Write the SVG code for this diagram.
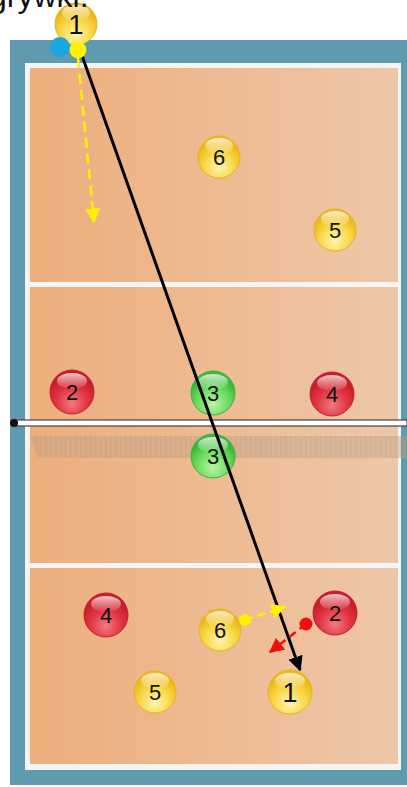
<svg xmlns="http://www.w3.org/2000/svg" width="407" height="787" viewBox="0 0 407 787">
<defs>
<linearGradient id="court" x1="0" y1="0" x2="1" y2="0">
<stop offset="0" stop-color="#EDAE7C"/><stop offset="1" stop-color="#EEC7A8"/>
</linearGradient>
<radialGradient id="gy" cx="0.5" cy="0.75" r="0.6">
<stop offset="0" stop-color="#FFF4B0"/><stop offset="0.6" stop-color="#F8D848"/><stop offset="1" stop-color="#EDB91A"/>
</radialGradient>
<radialGradient id="gr" cx="0.5" cy="0.75" r="0.6">
<stop offset="0" stop-color="#F27A80"/><stop offset="0.6" stop-color="#E03440"/><stop offset="1" stop-color="#C81E2C"/>
</radialGradient>
<radialGradient id="gg" cx="0.5" cy="0.75" r="0.6">
<stop offset="0" stop-color="#B8F5A8"/><stop offset="0.6" stop-color="#6EDC5E"/><stop offset="1" stop-color="#3CB83C"/>
</radialGradient>
<linearGradient id="hl" x1="0" y1="0" x2="0" y2="1">
<stop offset="0" stop-color="#fff" stop-opacity="0.75"/><stop offset="1" stop-color="#fff" stop-opacity="0.05"/>
</linearGradient>
<pattern id="hatch" width="5" height="22" patternUnits="userSpaceOnUse">
<rect width="5" height="22" fill="#BFA48C"/><rect width="1.5" height="22" fill="#B09580"/>
</pattern>
<marker id="ab" viewBox="0 0 10 10" refX="9" refY="5" markerWidth="5" markerHeight="5" orient="auto" markerUnits="strokeWidth">
<path d="M0,0 L10,5 L0,10 Z" fill="#000"/>
</marker>
<marker id="ay" viewBox="0 0 10 10" refX="9" refY="5" markerWidth="6" markerHeight="6" orient="auto" markerUnits="strokeWidth">
<path d="M0,0 L10,5 L0,10 Z" fill="#FFF200"/>
</marker>
<marker id="ar" viewBox="0 0 10 10" refX="9" refY="5" markerWidth="6" markerHeight="6" orient="auto" markerUnits="strokeWidth">
<path d="M0,0 L10,5 L0,10 Z" fill="#F01010"/>
</marker>
<style>
.num{font-family:"Liberation Sans",Arial,sans-serif;font-size:22px;fill:#111;text-anchor:middle;dominant-baseline:central}
.big{font-size:27px}
.py{fill:url(#gy);stroke:#E6B520;stroke-width:1}
.pr{fill:url(#gr);stroke:#C02030;stroke-width:1}
.pg{fill:url(#gg);stroke:#40B040;stroke-width:1}
</style>
</defs>
<rect width="407" height="787" fill="#fff"/>
<g id="court-bg">
<rect x="10" y="40" width="400" height="745" fill="#5F9AAE"/>
<rect x="25" y="63" width="376" height="707" fill="#F4F4F4"/>
<rect x="30" y="68" width="368" height="696" fill="url(#court)"/>
<rect x="30" y="282" width="368" height="5" fill="#F4F4F4"/>
<rect x="30" y="563" width="368" height="5" fill="#F4F4F4"/>
</g>
<g id="net">
<polygon points="30,436 407,436 407,458 38,458" fill="url(#hatch)" opacity="0.45"/>
<rect x="14" y="420" width="393" height="6" fill="#fff" stroke="#444" stroke-width="1.2"/>
<circle cx="14" cy="423" r="4" fill="#111"/>
</g>
<g id="players">
<g id="p1top"><circle cx="76" cy="24" r="21" class="py"/><ellipse cx="76" cy="13" rx="14" ry="8" fill="url(#hl)"/><text x="76" y="25" class="num big">1</text></g>
<g id="p6top"><circle cx="219" cy="157" r="21" class="py"/><ellipse cx="219" cy="146" rx="14" ry="8" fill="url(#hl)"/><text x="219" y="157" class="num">6</text></g>
<g id="p5top"><circle cx="335" cy="230" r="21" class="py"/><ellipse cx="335" cy="219" rx="14" ry="8" fill="url(#hl)"/><text x="335" y="230" class="num">5</text></g>
<g id="r2top"><circle cx="72" cy="392" r="22" class="pr"/><ellipse cx="72" cy="381" rx="15" ry="8" fill="url(#hl)"/><text x="72" y="392" class="num">2</text></g>
<g id="g3top"><circle cx="213" cy="393" r="22" class="pg"/><ellipse cx="213" cy="382" rx="15" ry="8" fill="url(#hl)"/><text x="213" y="393" class="num">3</text></g>
<g id="r4top"><circle cx="332" cy="394" r="22" class="pr"/><ellipse cx="332" cy="383" rx="15" ry="8" fill="url(#hl)"/><text x="332" y="394" class="num">4</text></g>
<g id="g3bot"><circle cx="213" cy="456" r="22" class="pg"/><ellipse cx="213" cy="445" rx="15" ry="8" fill="url(#hl)"/><text x="213" y="456" class="num">3</text></g>
<g id="r4bot"><circle cx="106" cy="615" r="22" class="pr"/><ellipse cx="106" cy="604" rx="15" ry="8" fill="url(#hl)"/><text x="106" y="615" class="num">4</text></g>
<g id="p6bot"><circle cx="220" cy="630" r="21" class="py"/><ellipse cx="220" cy="619" rx="14" ry="8" fill="url(#hl)"/><text x="220" y="630" class="num">6</text></g>
<g id="r2bot"><circle cx="335" cy="613" r="22" class="pr"/><ellipse cx="335" cy="602" rx="15" ry="8" fill="url(#hl)"/><text x="335" y="613" class="num">2</text></g>
<g id="p5bot"><circle cx="155" cy="692" r="21" class="py"/><ellipse cx="155" cy="681" rx="14" ry="8" fill="url(#hl)"/><text x="155" y="692" class="num">5</text></g>
<g id="p1bot"><circle cx="290" cy="692" r="22" class="py"/><ellipse cx="290" cy="681" rx="15" ry="8" fill="url(#hl)"/><text x="290" y="693" class="num big">1</text></g>
</g>
<text x="-11" y="7" font-family="Liberation Sans,Arial,sans-serif" font-size="32" fill="#111">grywki.</text>
<g id="connectors" fill="none">
<line x1="78" y1="58" x2="94" y2="222" stroke="#FFF200" stroke-width="2.5" stroke-dasharray="10,6" marker-end="url(#ay)"/>
<line x1="80" y1="50" x2="300" y2="670" stroke="#000" stroke-width="3" marker-end="url(#ab)"/>
<line x1="245" y1="620" x2="285" y2="607" stroke="#FFF200" stroke-width="2.5" stroke-dasharray="8,5" marker-end="url(#ay)"/>
<line x1="306" y1="624" x2="270" y2="652" stroke="#F01010" stroke-width="2.5" stroke-dasharray="8,5" marker-end="url(#ar)"/>
</g>
<g id="dots">
<circle cx="60" cy="47" r="10" fill="#1BA6E0"/>
<circle cx="78" cy="50" r="8.5" fill="#FFF200"/>
<circle cx="245" cy="620" r="6" fill="#FFF200"/>
<circle cx="306" cy="624" r="6.5" fill="#F01010"/>
</g>
</svg>
